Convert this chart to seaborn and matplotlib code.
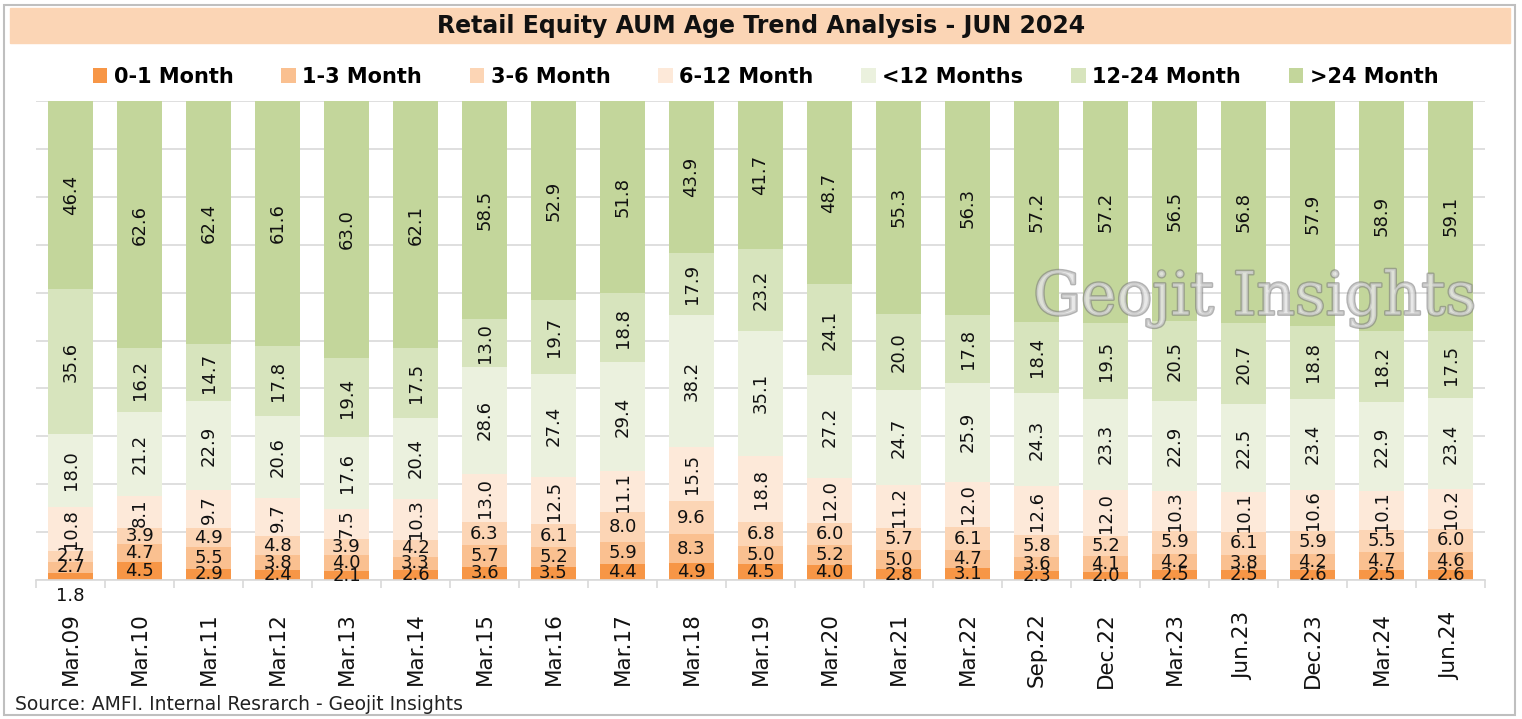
import seaborn as sns
import matplotlib
matplotlib.use("Agg")
import matplotlib.pyplot as plt
import matplotlib.patheffects as pe
from matplotlib.patches import Patch, Rectangle
import pandas as pd

# Datos
periods = ['Mar.09', 'Mar.10', 'Mar.11', 'Mar.12', 'Mar.13', 'Mar.14', 'Mar.15', 'Mar.16',
           'Mar.17', 'Mar.18', 'Mar.19', 'Mar.20', 'Mar.21', 'Mar.22', 'Sep.22', 'Dec.22',
           'Mar.23', 'Jun.23', 'Dec.23', 'Mar.24', 'Jun.24']
m0_1 = [1.8, 4.5, 2.9, 2.4, 2.1, 2.6, 3.6, 3.5, 4.4, 4.9, 4.5, 4.0, 2.8, 3.1, 2.3, 2.0, 2.5, 2.5, 2.6, 2.5, 2.6]
m1_3 = [2.7, 4.7, 5.5, 3.8, 4.0, 3.3, 5.7, 5.2, 5.9, 8.3, 5.0, 5.2, 5.0, 4.7, 3.6, 4.1, 4.2, 3.8, 4.2, 4.7, 4.6]
m3_6 = [2.7, 3.9, 4.9, 4.8, 3.9, 4.2, 6.3, 6.1, 8.0, 9.6, 6.8, 6.0, 5.7, 6.1, 5.8, 5.2, 5.9, 6.1, 5.9, 5.5, 6.0]
m6_12 = [10.8, 8.1, 9.7, 9.7, 7.5, 10.3, 13.0, 12.5, 11.1, 15.5, 18.8, 12.0, 11.2, 12.0, 12.6, 12.0, 10.3, 10.1, 10.6, 10.1, 10.2]
lt12 = [18.0, 21.2, 22.9, 20.6, 17.6, 20.4, 28.6, 27.4, 29.4, 38.2, 35.1, 27.2, 24.7, 25.9, 24.3, 23.3, 22.9, 22.5, 23.4, 22.9, 23.4]
m12_24 = [35.6, 16.2, 14.7, 17.8, 19.4, 17.5, 13.0, 19.7, 18.8, 17.9, 23.2, 24.1, 20.0, 17.8, 18.4, 19.5, 20.5, 20.7, 18.8, 18.2, 17.5]
gt24 = [46.4, 62.6, 62.4, 61.6, 63.0, 62.1, 58.5, 52.9, 51.8, 43.9, 41.7, 48.7, 55.3, 56.3, 57.2, 57.2, 56.5, 56.8, 57.9, 58.9, 59.1]

series = ['0-1 Month', '1-3 Month', '3-6 Month', '6-12 Month', '<12 Months', '12-24 Month', '>24 Month']
values = [m0_1, m1_3, m3_6, m6_12, lt12, m12_24, gt24]
colors = ['#F79646', '#FAC090', '#FCD5B5', '#FDE9D9', '#EBF1DE', '#D7E4BD', '#C3D69B']
rotated = [False, False, False, True, True, True, True]

# Dataframe: valores en % del total (grafico 100% apilado)
df = pd.DataFrame(dict(zip(series, values)), index=periods)
pct = df.div(df.sum(axis=1), axis=0) * 100
cum = pct.cumsum(axis=1)
cum['period'] = periods

fig = plt.figure(figsize=(15.22, 7.19), dpi=100)
ax = fig.add_axes([0.0237, 0.1933, 0.952, 0.666])

# Barras apiladas: de la capa superior a la inferior
for name, col in reversed(list(zip(series, colors))):
    sns.barplot(data=cum, x='period', y=name, color=col, saturation=1,
                width=0.66, linewidth=0, ax=ax, zorder=2)

# Etiquetas de datos
for j, name in enumerate(series):
    for i, p in enumerate(periods):
        top = cum.loc[p, name]
        h = pct.loc[p, name]
        v = df.loc[p, name]
        if v < 2.0:
            ax.text(i, -3.4, f'{v:.1f}', ha='center', va='center', fontsize=13,
                    color='#111111', clip_on=False)
            continue
        ax.text(i, top - h / 2, f'{v:.1f}', ha='center', va='center', fontsize=13,
                color='#111111', rotation=90 if rotated[j] else 0, zorder=3)

ax.set_xlim(-0.5, len(periods) - 0.5)
ax.set_ylim(0, 100)
ax.set_yticks(range(0, 101, 10))
ax.set_yticklabels([])
ax.tick_params(axis='y', length=0)
ax.yaxis.grid(True, color='#D9D9D9', linewidth=1.2, zorder=0)
ax.set_axisbelow(True)
ax.set_xlabel('')
ax.set_ylabel('')
for s in ['top', 'right', 'left']:
    ax.spines[s].set_visible(False)
ax.spines['bottom'].set_color('#D9D9D9')
ax.spines['bottom'].set_linewidth(1.2)
ax.set_xticks(range(len(periods)))
ax.set_xticklabels(periods, rotation=90, fontsize=15.5, color='#111111')
ax.tick_params(axis='x', which='major', length=0, pad=23)
ax.set_xticks([i + 0.5 for i in range(-1, len(periods))], minor=True)
ax.tick_params(axis='x', which='minor', length=6, color='#D9D9D9', width=1.2)

# Banda del titulo y borde
fig.patches.append(Rectangle((10 / 1522, 1 - 43 / 719), 1500 / 1522, 35 / 719,
                             transform=fig.transFigure, color='#FBD5B5', zorder=0))
fig.patches.append(Rectangle((4 / 1522, 4 / 719), 1511 / 1522, 710 / 719, fill=False,
                             edgecolor='#BFBFBF', linewidth=1.5, transform=fig.transFigure))
fig.text(0.5, 1 - 25.5 / 719, 'Retail Equity AUM Age Trend Analysis - JUN 2024',
         ha='center', va='center', fontsize=17, fontweight='bold', color='#111111')

# Leyenda
handles = [Patch(facecolor=c, edgecolor='none') for c in colors]
fig.legend(handles, series, loc='center', bbox_to_anchor=(0.503, 1 - 77 / 719), ncol=7,
           frameon=False, prop={'size': 15, 'weight': 'bold'}, handlelength=0.7,
           handleheight=0.7, handletextpad=0.3, columnspacing=2.3)

# Marca de agua
fig.text(1255 / 1522, 1 - 298 / 719, 'Geojit Insights', ha='center', va='center',
         fontsize=43, family='DejaVu Serif', color='#E4E4E4', alpha=0.6, zorder=5,
         path_effects=[pe.withStroke(linewidth=2.0, foreground='#7F7F7F')])

fig.text(15 / 1522, 1 - 704 / 719, 'Source: AMFI. Internal Resrarch - Geojit Insights',
         ha='left', va='center', fontsize=13.5, color='#222222')

fig.savefig('out.png', dpi=100)
